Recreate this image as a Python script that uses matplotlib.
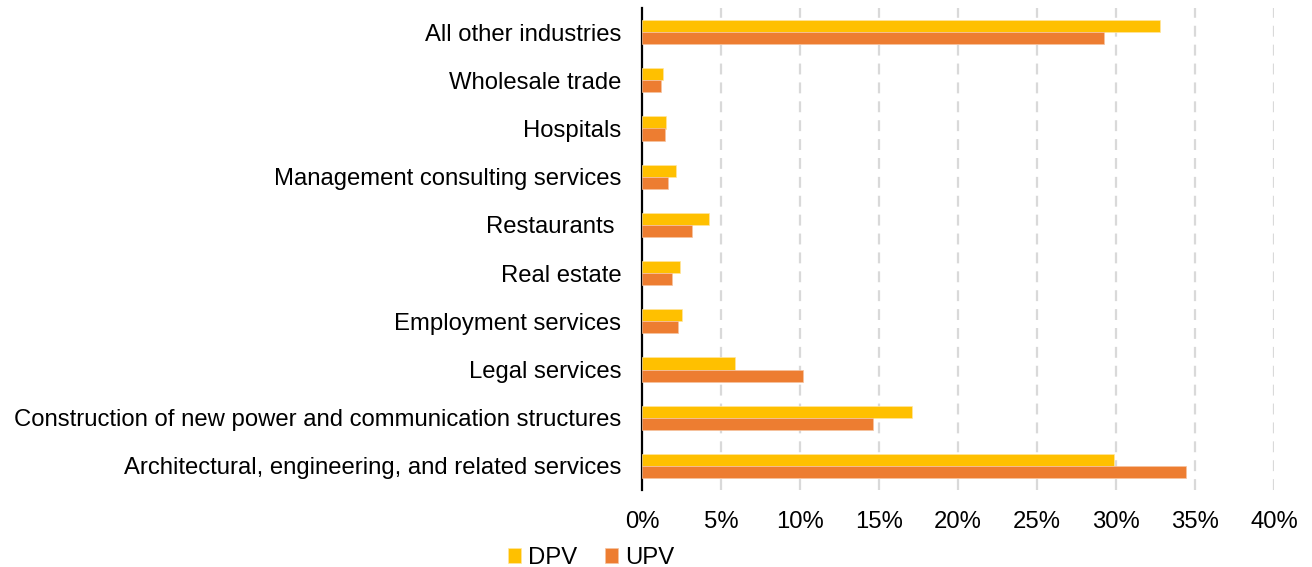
import matplotlib

matplotlib.use("Agg")
import matplotlib.pyplot as plt
import numpy as np

plt.rcParams["font.family"] = ["Liberation Sans", "DejaVu Sans"]

YELLOW, ORANGE, GRID = "#FFC000", "#ED7D31", "#D9D9D9"

# bottom to top, as drawn
industries = [
    "Architectural, engineering, and related services",
    "Construction of new power and communication structures",
    "Legal services",
    "Employment services",
    "Real estate",
    "Restaurants ",
    "Management consulting services",
    "Hospitals",
    "Wholesale trade",
    "All other industries",
]
dpv = [29.9, 17.1, 5.9, 2.5, 2.4, 4.25, 2.15, 1.55, 1.35, 32.8]
upv = [34.4, 14.6, 10.2, 2.25, 1.9, 3.15, 1.65, 1.45, 1.2, 29.25]
xticks = [0, 5, 10, 15, 20, 25, 30, 35, 40]

fig = plt.figure(figsize=(13.12, 5.67), dpi=100)
ax = fig.add_axes([642 / 1312, 77 / 567, 632 / 1312, 482 / 567])

y = np.arange(len(industries))
h = 0.25
ax.barh(y + h / 2, dpv, height=h, color=YELLOW, edgecolor="#FFE6A0", lw=0.5, label="DPV", zorder=3)
ax.barh(y - h / 2, upv, height=h, color=ORANGE, edgecolor="#F6C3A0", lw=0.5, label="UPV", zorder=3)

for t in xticks[1:]:
    ax.axvline(t, color=GRID, lw=1.6, ls=(0, (4.9, 3.6)), zorder=1)

ax.set_xlim(0, 40)
ax.set_ylim(-0.5, len(industries) - 0.5)
ax.set_xticks(xticks)
ax.set_xticklabels([f"{t}%" for t in xticks])
ax.set_yticks(y)
ax.set_yticklabels(industries)
ax.tick_params(axis="both", length=0, labelsize=17.2, colors="black")
ax.tick_params(axis="y", pad=15)
ax.tick_params(axis="x", pad=15)
ax.spines[["top", "right", "bottom"]].set_visible(False)
ax.spines["left"].set_linewidth(1.6)
ax.spines["left"].set_color("black")

fig.legend(loc="center", bbox_to_anchor=(591 / 1312, 1 - 558 / 567), ncol=2, frameon=False,
           fontsize=17.2, handlelength=0.55, handleheight=0.55, handletextpad=0.3, columnspacing=1.15)

fig.savefig("out.png", dpi=100)
